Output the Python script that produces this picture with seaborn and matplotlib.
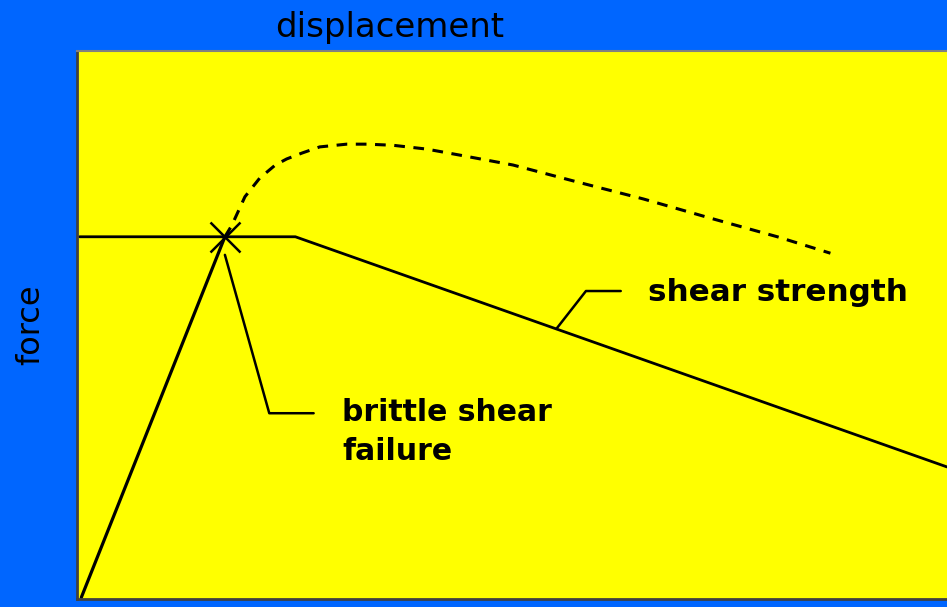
import matplotlib
matplotlib.use("Agg")
from matplotlib import pyplot
import pandas as pd
import seaborn as sns

# force / displacement sketch, values on a 0-100 scale
strength_x = [0.5, 17.0]
strength_y = [0.3, 66.1]
plateau_x = [0.3, 25.1, 100.0]
plateau_y = [66.1, 66.1, 24.1]
curve_x = [17.0, 17.8, 19.3, 21.0, 22.8, 24.1, 25.9, 27.9, 31.0, 33.3, 36.3,
           40.2, 44.0, 50.1, 57.5, 65.1, 72.8, 80.5, 86.6]
curve_y = [66.1, 68.2, 73.4, 76.8, 79.2, 80.3, 81.4, 82.5, 83.0, 83.0, 82.8,
           82.1, 81.0, 79.2, 76.1, 73.0, 69.5, 66.1, 63.1]
failure_pt = (17.0, 66.1)
brittle_lead_x = [17.0, 22.1, 27.2]
brittle_lead_y = [62.8, 33.9, 33.9]
shear_lead_x = [55.1, 58.5, 62.5]
shear_lead_y = [49.3, 56.2, 56.2]

blue = "#0066ff"
yellow = "#ffff00"

sns.set_theme(style="white")
pyplot.rcParams["font.family"] = ["DejaVu Sans"]
pyplot.rcParams["text.color"] = "black"
pyplot.rcParams["axes.labelcolor"] = "black"

fig = pyplot.figure(figsize=(9.47, 6.07), dpi=100, facecolor=blue)
ax = fig.add_axes([77 / 947, 8 / 607, 870 / 947, 548 / 607])
ax.set_facecolor(yellow)

rise = pd.DataFrame({"d": strength_x, "f": strength_y})
plat = pd.DataFrame({"d": plateau_x, "f": plateau_y})
curve = pd.DataFrame({"d": curve_x, "f": curve_y})

sns.lineplot(x="d", y="f", data=rise, sort=False, estimator=None, color="black", lw=2.3, ax=ax)
sns.lineplot(x="d", y="f", data=plat, sort=False, estimator=None, color="black", lw=2.0, ax=ax)
sns.lineplot(x="d", y="f", data=curve, sort=False, estimator=None, color="black", lw=2.2, ax=ax)
ax.lines[-1].set_dashes([3.5, 2.8])

ax.plot(*failure_pt, marker="x", ms=21, mew=1.8, color="black")
ax.plot(brittle_lead_x, brittle_lead_y, color="black", lw=1.8)
ax.plot(shear_lead_x, shear_lead_y, color="black", lw=1.8)

ax.text(30.5, 25.4, "brittle shear\nfailure", fontsize=21.5, fontweight="bold",
        va="baseline", ha="left", linespacing=1.42)
ax.text(65.6, 54.4, "shear strength", fontsize=22.3, fontweight="bold",
        va="baseline", ha="left")

ax.set_xlim(0, 100)
ax.set_ylim(0, 100)
ax.set_xticks([])
ax.set_yticks([])
ax.set_xlabel("")
ax.set_ylabel("force", fontsize=23, labelpad=22)
for side in ["left", "bottom"]:
    ax.spines[side].set_color("#404040")
    ax.spines[side].set_linewidth(2)
ax.spines["top"].set_color("#808080")
ax.spines["top"].set_linewidth(1.5)
ax.spines["right"].set_visible(False)

fig.text(389.5 / 947, 1 - 27 / 607, "displacement", fontsize=24.5, ha="center", va="center")

pyplot.savefig("out.png", dpi=100, facecolor=blue)
